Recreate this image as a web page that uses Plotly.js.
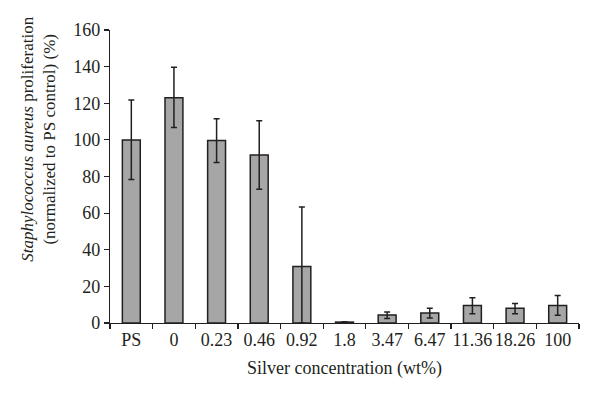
<!DOCTYPE html>
<html>
<head>
<meta charset="utf-8">
<script src="https://cdn.plot.ly/plotly-3.0.1.min.js"></script>
<style>html,body{margin:0;padding:0;background:#fff;}#chart{width:600px;height:401px;}</style>
</head>
<body>
<div id="chart"></div>
<script>
const categories = ["PS", "0", "0.23", "0.46", "0.92", "1.8", "3.47", "6.47", "11.36", "18.26", "100"];
const proliferation = [100, 123, 99.6, 91.8, 30.9, 0.5, 4.4, 5.4, 9.6, 8.0, 9.6];
const errorPlus = [21.8, 16.6, 12.0, 18.7, 32.5, 0.2, 1.6, 2.6, 4.2, 2.7, 5.4];
const errorMinus = [21.7, 16.3, 12.0, 18.7, 30.9, 0.2, 2.0, 2.7, 4.5, 2.9, 5.4];
const yTicks = [0, 20, 40, 60, 80, 100, 120, 140, 160];

const fontFam = "Liberation Serif, Times New Roman, serif";
const ink = "#231f20";

const trace = {
  type: "bar",
  x: categories,
  y: proliferation,
  width: 0.42,
  marker: {color: "#a6a6a6", line: {color: ink, width: 1.5}},
  error_y: {type: "data", symmetric: false, array: errorPlus, arrayminus: errorMinus,
            color: ink, thickness: 1.5, width: 3},
  hoverinfo: "none"
};

const layout = {
  width: 600, height: 401,
  margin: {l: 110, r: 21, t: 30, b: 78},
  paper_bgcolor: "#fff", plot_bgcolor: "#fff",
  showlegend: false,
  font: {family: fontFam, color: ink, size: 18},
  xaxis: {
    type: "category",
    tickson: "boundaries",
    tickangle: 0,
    ticks: "outside", ticklen: 5, tickwidth: 1.2, tickcolor: ink,
    showline: true, linecolor: ink, linewidth: 1.2,
    showgrid: false, zeroline: false,
    tickfont: {family: fontFam, size: 18, color: ink},
    title: {text: ""}
  },
  yaxis: {
    range: [0, 160],
    tickmode: "array", tickvals: yTicks, ticktext: yTicks.map(String),
    ticks: "outside", ticklen: 5, tickwidth: 1.2, tickcolor: ink,
    showline: true, linecolor: ink, linewidth: 1.2,
    showgrid: false, zeroline: false,
    tickfont: {family: fontFam, size: 18, color: ink}
  },
  annotations: [{
    xref: "paper", yref: "paper", x: -0.152, y: 0.628,
    xanchor: "center", yanchor: "middle", textangle: -90, showarrow: false,
    text: "<i>Staphylococcus aureus</i> proliferation<br>(normalized to PS control) (%)",
    font: {family: fontFam, size: 17, color: ink}
  }, {
    xref: "paper", yref: "paper", x: 0.5, y: -0.154,
    xanchor: "center", yanchor: "middle", showarrow: false,
    text: "Silver concentration (wt%)",
    font: {family: fontFam, size: 18, color: ink}
  }]
};

Plotly.newPlot("chart", [trace], layout, {staticPlot: true, displayModeBar: false});
</script>
</body>
</html>
